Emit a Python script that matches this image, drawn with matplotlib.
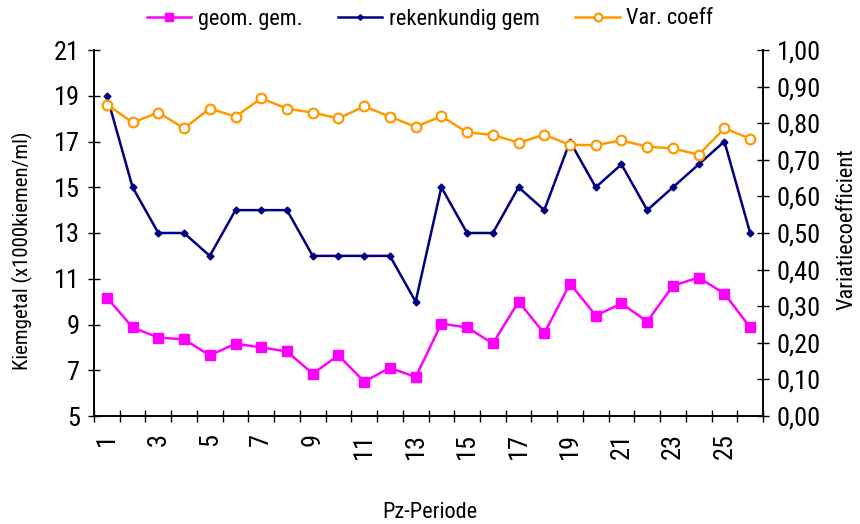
import matplotlib
matplotlib.use("Agg")
import matplotlib.pyplot as plt
from matplotlib import font_manager
from matplotlib.ticker import FixedLocator, FuncFormatter

names = {f.name for f in font_manager.fontManager.ttflist}
fam = 'Liberation Sans'
for cand in ['Liberation Sans Narrow', 'Roboto Condensed', 'Open Sans Condensed',
             'DejaVu Sans Condensed', 'Noto Sans Condensed']:
    if cand in names:
        fam = cand
        break
plt.rcParams['font.family'] = [fam, 'DejaVu Sans']

periods = list(range(1, 27))
geom_gem = [10.18, 8.87, 8.43, 8.35, 7.65, 8.16, 8.0, 7.82, 6.85, 7.65, 6.5, 7.11, 6.7,
            9.04, 8.87, 8.17, 10.0, 8.61, 10.79, 9.39, 9.92, 9.13, 10.7, 11.05, 10.35, 8.87]
rek_gem = [19, 15, 13, 13, 12, 14, 14, 14, 12, 12, 12, 12, 10,
           15, 13, 13, 15, 14, 17, 15, 16, 14, 15, 16, 17, 13]
var_coeff = [0.851, 0.802, 0.829, 0.786, 0.840, 0.818, 0.868, 0.840, 0.829, 0.813, 0.846, 0.818, 0.790,
             0.819, 0.775, 0.768, 0.747, 0.768, 0.741, 0.740, 0.753, 0.736, 0.731, 0.714, 0.786, 0.758]

fig = plt.figure(figsize=(8.6, 5.24), dpi=100)
ax = fig.add_axes([94/860, 1-416/524, (763-94)/860, (416-50)/524])
ax2 = ax.twinx()

l1, = ax.plot(periods, geom_gem, color='#FF00FF', marker='s', markersize=7, lw=1.8,
              label='geom. gem.')
l2, = ax.plot(periods, rek_gem, color='#000080', marker='D', markersize=3.5, lw=1.8,
              label='rekenkundig gem')
l3, = ax2.plot(periods, var_coeff, color='#FF9900', marker='o', markersize=7, lw=1.8,
               markerfacecolor='white', markeredgewidth=1.6, label='Var. coeff')

ax.set_xlim(0.5, 26.5)
ax.set_ylim(5, 21)
ax2.set_ylim(0, 1.0)
ax.set_yticks(range(5, 22, 2))
ax2.set_yticks([i/10 for i in range(11)])
ax2.yaxis.set_major_formatter(FuncFormatter(lambda v, p: f"{v:.2f}".replace('.', ',')))

ax.xaxis.set_major_locator(FixedLocator([i + 0.5 for i in range(0, 27)]))
ax.xaxis.set_major_formatter(FuncFormatter(lambda v, p: ''))
ax.xaxis.set_minor_locator(FixedLocator(list(range(1, 27, 2))))
ax.xaxis.set_minor_formatter(FuncFormatter(lambda v, p: f"{int(round(v))}"))
ax.tick_params(axis='x', which='minor', length=0, labelsize=19, rotation=90, pad=12)
ax.tick_params(axis='x', which='major', direction='inout', length=8, width=1)
ax.tick_params(axis='y', direction='inout', length=8, width=1, labelsize=19, pad=6)
ax2.tick_params(axis='y', direction='inout', length=8, width=1, labelsize=19, pad=6)

for a in (ax, ax2):
    a.spines['top'].set_visible(False)
    for s in ('left', 'right', 'bottom'):
        a.spines[s].set_linewidth(1.2)

fig.text(22/860, 1-251/524, 'Kiemgetal (x1000kiemen/ml)', rotation=90,
         ha='center', va='center', fontsize=15)
fig.text(847/860, 1-229/524, 'Variatiecoefficient', rotation=90,
         ha='center', va='center', fontsize=16)
fig.text(430/860, 1-512/524, 'Pz-Periode', ha='center', va='center', fontsize=16)

fig.legend(handles=[l1, l2, l3], loc='center', bbox_to_anchor=(430/860, 1-19/524),
           ncol=3, frameon=False, fontsize=16, handlelength=2.0, columnspacing=1.6,
           handletextpad=0.3, markerscale=0.8)

fig.savefig('out.png', dpi=100)
